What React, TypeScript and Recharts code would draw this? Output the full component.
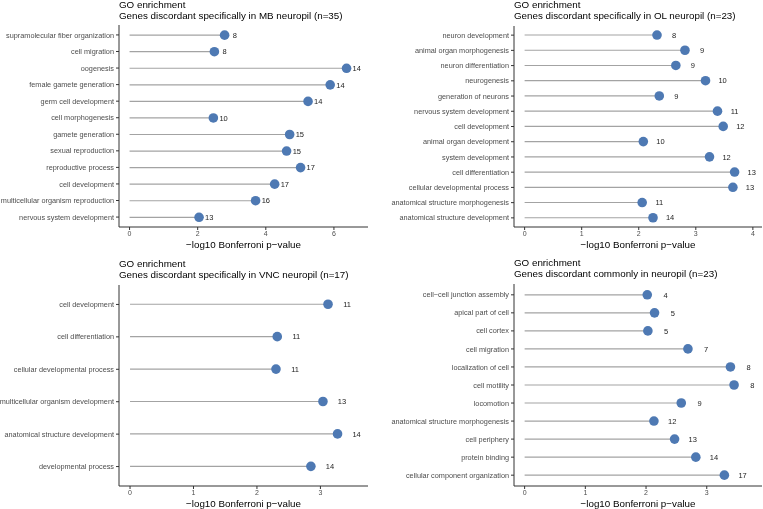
import React from 'react';
import { BarChart, Bar, XAxis, YAxis } from 'recharts';

// MB neuropil
const mbTerms = [
  'supramolecular fiber organization', 'cell migration', 'oogenesis', 'female gamete generation',
  'germ cell development', 'cell morphogenesis', 'gamete generation', 'sexual reproduction',
  'reproductive process', 'cell development', 'multicellular organism reproduction', 'nervous system development',
];
const mbScores = [2.79, 2.49, 6.37, 5.89, 5.24, 2.46, 4.7, 4.61, 5.02, 4.26, 3.7, 2.04];
const mbCounts = [8, 8, 14, 14, 14, 10, 15, 15, 17, 17, 16, 13];

// OL neuropil
const olTerms = [
  'neuron development', 'animal organ morphogenesis', 'neuron differentiation', 'neurogenesis',
  'generation of neurons', 'nervous system development', 'cell development', 'animal organ development',
  'system development', 'cell differentiation', 'cellular developmental process',
  'anatomical structure morphogenesis', 'anatomical structure development',
];
const olScores = [2.32, 2.81, 2.65, 3.17, 2.36, 3.38, 3.48, 2.08, 3.24, 3.68, 3.65, 2.06, 2.25];
const olCounts = [8, 9, 9, 10, 9, 11, 12, 10, 12, 13, 13, 11, 14];

// VNC neuropil
const vncTerms = [
  'cell development', 'cell differentiation', 'cellular developmental process',
  'multicellular organism development', 'anatomical structure development', 'developmental process',
];
const vncScores = [3.12, 2.32, 2.3, 3.04, 3.27, 2.85];
const vncCounts = [11, 11, 11, 13, 14, 14];

// common
const comTerms = [
  'cell\u2212cell junction assembly', 'apical part of cell', 'cell cortex', 'cell migration',
  'localization of cell', 'cell motility', 'locomotion', 'anatomical structure morphogenesis',
  'cell periphery', 'protein binding', 'cellular component organization',
];
const comScores = [2.02, 2.14, 2.03, 2.69, 3.39, 3.45, 2.58, 2.13, 2.47, 2.82, 3.29];
const comCounts = [4, 5, 5, 7, 8, 8, 9, 12, 13, 14, 17];

const FONT = '"Liberation Sans", Arial, Helvetica, sans-serif';
const DOT = '#4E79B3';
const STEM = '#A3A3A3';
const AXIS = '#333333';

const Lollipop = (props: any) => {
  const { x, y, width, height, payload } = props;
  const cy = y + height / 2;
  const end = x + width;
  const perUnit = payload.score ? width / payload.score : 0;
  return (
    <g>
      <line x1={x} y1={cy} x2={end} y2={cy} stroke={STEM} strokeWidth={1.2} />
      <circle cx={end} cy={cy} r={4.8} fill={DOT} />
      <text x={end + 0.3 * perUnit} y={cy} dy={2.7} textAnchor="middle" fontSize={7.5} fill="#222" fontFamily={FONT}>
        {payload.count}
      </text>
    </g>
  );
};

const TermTick = (props: any) => {
  const { x, y, payload } = props;
  return (
    <text x={x} y={y} dy={2.6} textAnchor="end" fontSize={7.3} fill="#4D4D4D" fontFamily={FONT}>
      {payload.value}
    </text>
  );
};

type PanelProps = {
  left: number; top: number; w: number; h: number;
  title: string; terms: string[]; scores: number[]; counts: number[];
  domain: [number, number]; ticks: number[];
  yWidth: number; mTop: number; mRight: number; xHeight: number;
  titleTop: number; axisTitleY: number;
};

function Panel(p: PanelProps) {
  const data = p.terms.map((t, i) => ({ term: t, score: p.scores[i], count: p.counts[i] }));
  const plotH = p.h - p.mTop - p.xHeight;
  const pad = (0.1 * plotH) / (p.terms.length + 0.2);
  const plotW = p.w - p.yWidth - p.mRight;
  return (
    <div style={{ position: 'absolute', left: p.left, top: p.top, width: p.w, height: p.h }}>
      <div style={{ position: 'absolute', left: p.yWidth, top: p.titleTop, fontFamily: FONT, fontSize: 9.8, lineHeight: '11px', color: '#000', whiteSpace: 'nowrap' }}>
        GO enrichment<br />{p.title}
      </div>
      <BarChart width={p.w} height={p.h} data={data} layout="vertical"
        margin={{ top: p.mTop, right: p.mRight, bottom: 0, left: 0 }} barCategoryGap={0}>
        <XAxis type="number" domain={p.domain} ticks={p.ticks} allowDataOverflow height={p.xHeight}
          stroke={AXIS} tickSize={3} tickLine={{ stroke: AXIS }}
          tick={{ fontSize: 7, fill: '#4D4D4D', fontFamily: FONT }} tickMargin={1} />
        <YAxis type="category" dataKey="term" width={p.yWidth} stroke={AXIS} tickSize={3}
          padding={{ top: pad, bottom: pad }} interval={0} tick={<TermTick />} tickMargin={2} />
        <Bar dataKey="score" isAnimationActive={false} shape={<Lollipop />} />
      </BarChart>
      <div style={{ position: 'absolute', left: p.yWidth, width: plotW, top: p.axisTitleY - 6, textAlign: 'center', fontFamily: FONT, fontSize: 9.8, lineHeight: '12px', color: '#000', whiteSpace: 'nowrap' }}>
        {'\u2212log10 Bonferroni p\u2212value'}
      </div>
    </div>
  );
}

export default function App() {
  return (
    <div style={{ position: 'fixed', left: 0, top: 0, width: 763, height: 509, background: '#fff' }}>
      <Panel left={0} top={0} w={381} h={254} title="Genes discordant specifically in MB neuropil (n=35)"
        terms={mbTerms} scores={mbScores} counts={mbCounts} domain={[-0.31, 7.0]} ticks={[0, 2, 4, 6]}
        yWidth={119} mTop={25} mRight={13} xHeight={27} titleTop={-1} axisTitleY={244.5} />
      <Panel left={381} top={0} w={382} h={254} title="Genes discordant specifically in OL neuropil (n=23)"
        terms={olTerms} scores={olScores} counts={olCounts} domain={[-0.186, 4.16]} ticks={[0, 1, 2, 3, 4]}
        yWidth={133} mTop={26} mRight={1} xHeight={27} titleTop={-1} axisTitleY={244.5} />
      <Panel left={0} top={254} w={381} h={255} title="Genes discordant specifically in VNC neuropil (n=17)"
        terms={vncTerms} scores={vncScores} counts={vncCounts} domain={[-0.174, 3.75]} ticks={[0, 1, 2, 3]}
        yWidth={119} mTop={31} mRight={13} xHeight={23} titleTop={4} axisTitleY={250} />
      <Panel left={381} top={254} w={382} h={255} title="Genes discordant commonly in neuropil (n=23)"
        terms={comTerms} scores={comScores} counts={comCounts} domain={[-0.175, 3.91]} ticks={[0, 1, 2, 3]}
        yWidth={133} mTop={30} mRight={1} xHeight={23} titleTop={3} axisTitleY={250} />
    </div>
  );
}
